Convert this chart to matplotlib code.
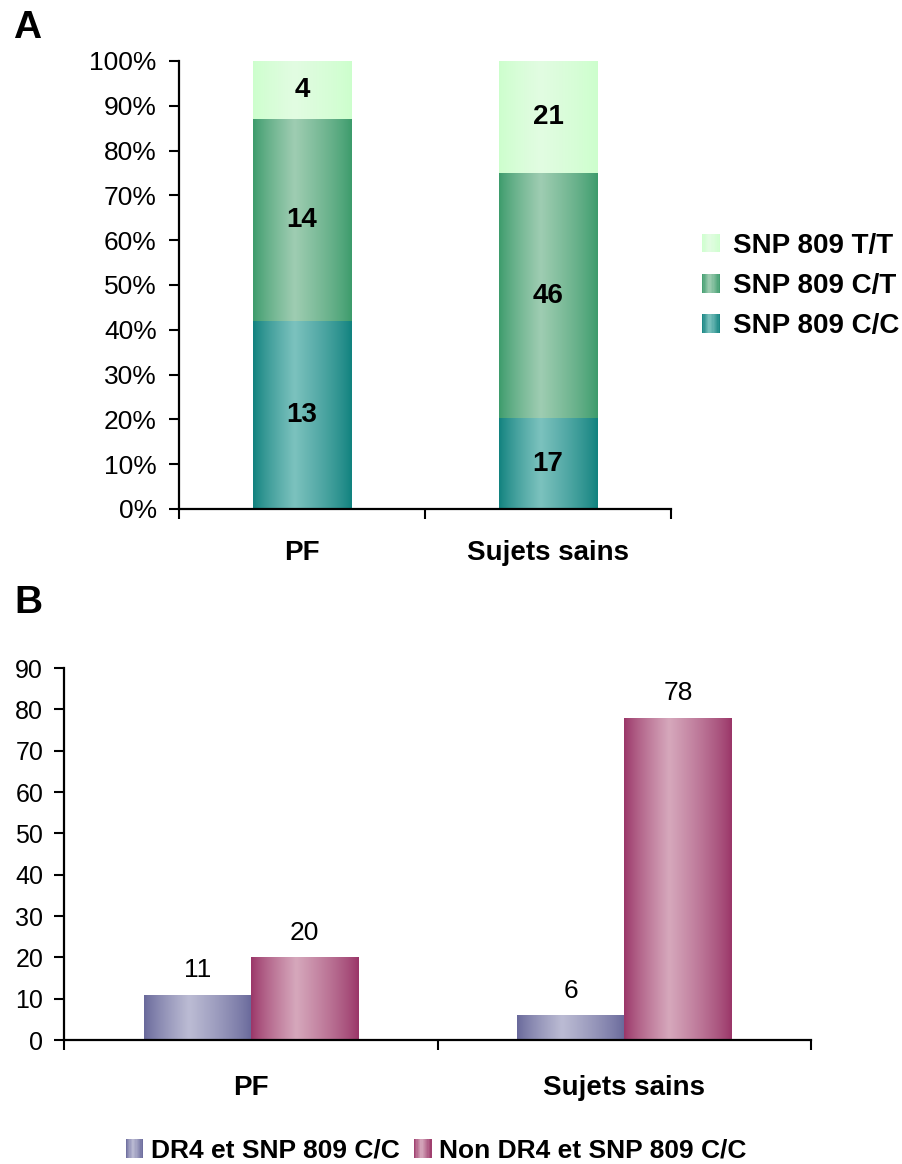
import numpy as np
import matplotlib
matplotlib.use("Agg")
import matplotlib.pyplot as plt
from matplotlib.patches import Rectangle, Patch
from matplotlib.legend_handler import HandlerBase
from matplotlib.colors import to_rgb

plt.rcParams['font.family'] = ['Liberation Sans', 'DejaVu Sans']

# --- data ---
groups = ["PF", "Sujets sains"]

# panel A: genotype counts (stacked, shown as % of group)
snp_labels = ["SNP 809 C/C", "SNP 809 C/T", "SNP 809 T/T"]
snp_cc = [13, 17]
snp_ct = [14, 46]
snp_tt = [4, 21]

# panel B: counts
dr4_labels = ["DR4 et SNP 809 C/C", "Non DR4 et SNP 809 C/C"]
dr4_cc = [11, 6]
non_dr4_cc = [20, 78]

pct_ticks = [0, 10, 20, 30, 40, 50, 60, 70, 80, 90, 100]
count_ticks = [0, 10, 20, 30, 40, 50, 60, 70, 80, 90]

# gradient colours (edge, middle)
snp_colors = [("#0e807d", "#7cc2be"), ("#3a9a6a", "#9fcdb2"), ("#ccffcc", "#e2fce2")]
dr4_colors = [("#666699", "#bcbcd4"), ("#993366", "#d6a8bc")]


def grad_row(edge, mid, n=64):
    e = np.array(to_rgb(edge))
    m = np.array(to_rgb(mid))
    pos = (np.arange(n) + 0.5) / n
    peak = 0.42
    t = np.where(pos < peak, pos / peak, (1 - pos) / (1 - peak))
    t = np.clip(t, 0, 1) ** 0.8
    return e[None, :] + (m - e)[None, :] * t[:, None]


def shade_bars(ax, bars, edge, mid):
    img = grad_row(edge, mid)[None, :, :]
    for b in bars:
        x, y = b.get_x(), b.get_y()
        w, h = b.get_width(), b.get_height()
        im = ax.imshow(img, extent=[x, x + w, y, y + h], aspect='auto',
                       interpolation='bilinear', zorder=b.get_zorder() + 0.1)
        im.set_clip_path(b)


class GradHandler(HandlerBase):
    def __init__(self, edge, mid):
        super().__init__()
        self.edge, self.mid = edge, mid

    def create_artists(self, legend, orig_handle, xdescent, ydescent,
                       width, height, fontsize, trans):
        n = 14
        cols = grad_row(self.edge, self.mid, n)
        out = []
        for i in range(n):
            r = Rectangle((-xdescent + i * width / n, -ydescent), width / n + 0.3, height,
                          facecolor=cols[i], edgecolor='none', transform=trans)
            out.append(r)
        return out


W, H = 902, 1164
fig = plt.figure(figsize=(W / 100, H / 100), dpi=100)

# ---------------- panel A ----------------
axA = fig.add_axes([179 / W, 1 - 509 / H, (671 - 179) / W, (509 - 61) / H])
x = np.arange(len(groups))
totals = np.array(snp_cc) + np.array(snp_ct) + np.array(snp_tt)
layers = [np.array(snp_cc), np.array(snp_ct), np.array(snp_tt)]
bottom = np.zeros(len(groups))
handles_a = []
hmap = {}
for vals, lab, (ec, mc) in zip(layers, snp_labels, snp_colors):
    pct = vals / totals * 100
    bars = axA.bar(x, pct, 0.4, bottom=bottom, color=mc, edgecolor='none', zorder=2)
    shade_bars(axA, bars, ec, mc)
    for xi, b0, p, v in zip(x, bottom, pct, vals):
        axA.text(xi, b0 + p / 2, str(v), ha='center', va='center',
                 fontsize=20, fontweight='bold', zorder=5)
    bottom = bottom + pct
    h = Patch(label=lab)
    handles_a.append(h)
    hmap[h] = GradHandler(ec, mc)

axA.set_xlim(-0.5, 1.5)
axA.set_ylim(0, 100)
axA.set_yticks(pct_ticks)
axA.set_yticklabels([f"{t}%" for t in pct_ticks])
axA.set_xticks([-0.5, 0.5, 1.5])
axA.set_xticklabels([])
axA.set_xticks(x, minor=True)
axA.set_xticklabels(groups, minor=True, fontsize=20, fontweight='bold')
axA.tick_params(axis='x', which='minor', length=0, pad=22)
axA.tick_params(axis='x', which='major', length=7, width=1.5, direction='out')
axA.tick_params(axis='y', length=7, width=1.5, labelsize=19, pad=9)
for s in ['top', 'right']:
    axA.spines[s].set_visible(False)
for s in ['left', 'bottom']:
    axA.spines[s].set_linewidth(1.6)

fig.legend(handles_a[::-1], [h.get_label() for h in handles_a[::-1]],
           handler_map=hmap, loc='center left',
           bbox_to_anchor=(702 / W, 1 - 286 / H), frameon=False,
           prop={'size': 20, 'weight': 'bold'}, handlelength=0.65, handleheight=0.65,
           handletextpad=0.45, labelspacing=0.52, borderpad=0, borderaxespad=0)

fig.text(13 / W, 1 - 28 / H, "A", fontsize=28, fontweight='bold', ha='left', va='center')

# ---------------- panel B ----------------
axB = fig.add_axes([64 / W, 1 - 1040 / H, (811 - 64) / W, (1040 - 668) / H])
bw = 0.287
handles_b = []
hmapb = {}
for k, (vals, lab, (ec, mc)) in enumerate(zip([dr4_cc, non_dr4_cc], dr4_labels, dr4_colors)):
    pos = x + (k - 0.5) * bw
    bars = axB.bar(pos, vals, bw, color=mc, edgecolor='none', zorder=2)
    shade_bars(axB, bars, ec, mc)
    for px, v in zip(pos, vals):
        axB.annotate(str(v), (px, v), xytext=(0, 9), textcoords='offset points',
                     ha='center', va='bottom', fontsize=19)
    h = Patch(label=lab)
    handles_b.append(h)
    hmapb[h] = GradHandler(ec, mc)

axB.set_xlim(-0.5, 1.5)
axB.set_ylim(0, 90)
axB.set_yticks(count_ticks)
axB.set_xticks([-0.5, 0.5, 1.5])
axB.set_xticklabels([])
axB.set_xticks(x, minor=True)
axB.set_xticklabels(groups, minor=True, fontsize=20, fontweight='bold')
axB.tick_params(axis='x', which='minor', length=0, pad=25)
axB.tick_params(axis='x', which='major', length=7, width=1.5, direction='out')
axB.tick_params(axis='y', length=7, width=1.5, labelsize=18, pad=8)
for s in ['top', 'right']:
    axB.spines[s].set_visible(False)
for s in ['left', 'bottom']:
    axB.spines[s].set_linewidth(1.6)

fig.legend(handles_b, dr4_labels, handler_map=hmapb, loc='center',
           bbox_to_anchor=(436 / W, 1 - 1151 / H), ncol=2, frameon=False,
           prop={'size': 19, 'weight': 'bold'}, handlelength=0.65, handleheight=0.75,
           handletextpad=0.3, columnspacing=0.55, borderpad=0, borderaxespad=0)

fig.text(14 / W, 1 - 603 / H, "B", fontsize=28, fontweight='bold', ha='left', va='center')

fig.savefig("out.png", dpi=100)
